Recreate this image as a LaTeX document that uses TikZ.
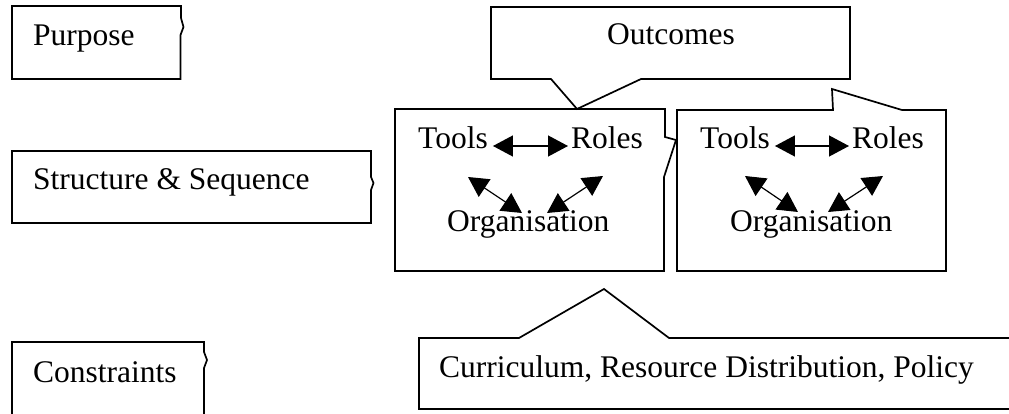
\documentclass[tikz,border=0pt]{standalone}
\usepackage{fontspec}
\setmainfont{Liberation Serif}
\usetikzlibrary{arrows.meta}
\begin{document}
\begin{tikzpicture}[x=1pt,y=-1pt,
  box/.style={line width=1.7pt, line join=miter},
  lbl/.style={inner sep=0pt, anchor=base west, font=\fontsize{31.5}{36}\selectfont},
  dbl/.style={line width=1.2pt, {Triangle[length=20pt,width=21pt]}-{Triangle[length=20pt,width=21pt]}}]
\useasboundingbox (0,0) rectangle (1009,414);
% left column callouts
\draw[box] (12,6) -- (181,6) -- (181,18) -- (183.5,27) -- (180.5,35) -- (180.5,79) -- (12,79) -- cycle;
\draw[box] (12,151) -- (371,151) -- (371,177) -- (373.5,183) -- (371,190) -- (371,223) -- (12,223) -- cycle;
\draw[box] (12,342) -- (204,342) -- (204,352) -- (207,360) -- (204,368) -- (204,430) -- (12,430) -- cycle;
\node[lbl] (purpose) at (33,46) {Purpose};
\node[lbl] (struct) at (33,190) {Structure \& Sequence};
\node[lbl] (constr) at (33,382) {Constraints};
% outcomes callout
\draw[box] (491,7) -- (850,7) -- (850,79) -- (641,79) -- (577,109) -- (551,79) -- (491,79) -- cycle;
\node[lbl] (outc) at (607,45) {Outcomes};
% left activity box
\draw[box] (395,109) -- (665,109) -- (665,137) -- (676,140) -- (664,177) -- (664,271) -- (395,271) -- cycle;
% right activity box
\draw[box] (677,110) -- (833,110) -- (832,89) -- (902,110) -- (946,110) -- (946,271) -- (677,271) -- cycle;
% constraints callout
\draw[box] (419,338) -- (519,338) -- (604,289) -- (669,338) -- (1030,338) -- (1030,409) -- (419,409) -- cycle;
\node[lbl] (curr) at (439,377) {Curriculum, Resource Distribution, Policy};
% left box contents
\node[lbl] (tl1) at (418,149) {Tools};
\node[lbl] (rl1) at (571,149) {Roles};
\node[lbl] (og1) at (447,232) {Organisation};
\draw[dbl] ([xshift=5pt,yshift=3pt]tl1.base east) -- ([xshift=-3pt,yshift=3pt]rl1.base west);
\draw[dbl] ([xshift=50pt,yshift=-28pt]tl1.base west) -- ([xshift=75pt,yshift=19pt]og1.base west);
\draw[dbl] ([xshift=32pt,yshift=-27pt]rl1.base west) -- ([xshift=100pt,yshift=19pt]og1.base west);
% right box contents
\node[lbl] (tl2) at (700,149) {Tools};
\node[lbl] (rl2) at (852,149) {Roles};
\node[lbl] (og2) at (730,231) {Organisation};
\draw[dbl] ([xshift=5pt,yshift=3pt]tl2.base east) -- ([xshift=-3pt,yshift=3pt]rl2.base west);
\draw[dbl] ([xshift=45pt,yshift=-27pt]tl2.base west) -- ([xshift=68pt,yshift=19pt]og2.base west);
\draw[dbl] ([xshift=31pt,yshift=-27pt]rl2.base west) -- ([xshift=98pt,yshift=19pt]og2.base west);
\end{tikzpicture}
\end{document}
